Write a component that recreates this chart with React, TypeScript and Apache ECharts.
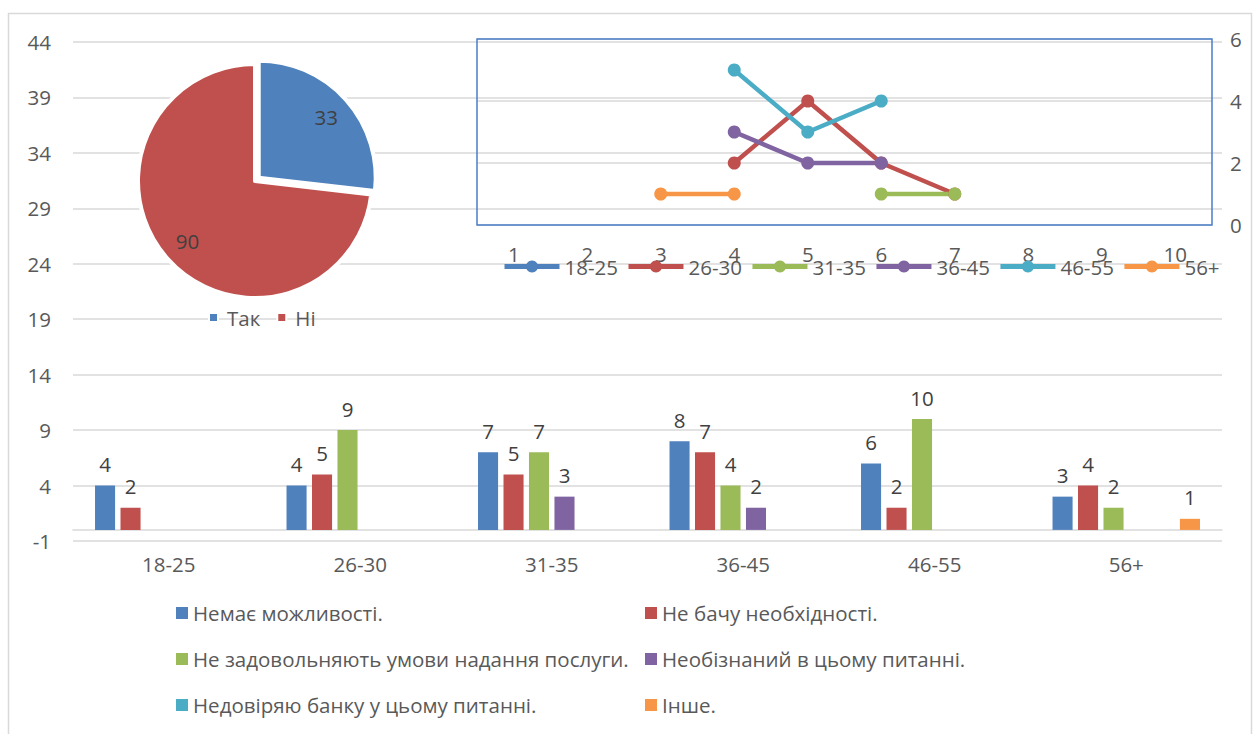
import React, { useEffect, useRef } from 'react';
import * as echarts from 'echarts';

const FONT = '"Open Sans", "Noto Sans", sans-serif';
const FONT_SIZE = 20.5;
const AXIS_TEXT = '#595959';
const LABEL_TEXT = '#404040';
const GRID_LINE = '#d9d9d9';

// Bar chart: reasons by age group
const ageGroups = ['18-25', '26-30', '31-35', '36-45', '46-55', '56+'];
const reasons = [
  'Немає можливості.',
  'Не бачу необхідності.',
  'Не задовольняють умови надання послуги.',
  'Необізнаний в цьому питанні.',
  'Недовіряю банку у цьому питанні.',
  'Інше.',
];
const palette = ['#4F81BD', '#C0504D', '#9BBB59', '#8064A2', '#4BACC6', '#F79646'];

const noPossibility = [4, 4, 7, 8, 6, 3];
const noNeed = [2, 5, 5, 7, 2, 4];
const badTerms = [null, 9, 7, 4, 10, 2];
const unaware = [null, null, 3, 2, null, null];
const distrust = [null, null, null, null, null, null];
const other = [null, null, null, null, null, 1];
const barValues = [noPossibility, noNeed, badTerms, unaware, distrust, other];

const barTicks = { min: -1, max: 44, interval: 5 };

// Pie chart: yes / no
const pieNames = ['Так', 'Ні'];
const pieValues = [33, 90];

// Line chart: counts per age group along positions 1..10
const lineX = ['1', '2', '3', '4', '5', '6', '7', '8', '9', '10'];
const line18to25 = [null, null, null, null, null, null, null, null, null, null];
const line26to30 = [null, null, null, 2, 4, 2, 1, null, null, null];
const line31to35 = [null, null, null, null, null, 1, 1, null, null, null];
const line36to45 = [null, null, null, 3, 2, 2, null, null, null, null];
const line46to55 = [null, null, null, 5, 3, 4, null, null, null, null];
const line56plus = [null, null, 1, 1, null, null, null, null, null, null];
const lineValues = [line18to25, line26to30, line31to35, line36to45, line46to55, line56plus];

const lineTicks = { min: 0, max: 6, interval: 2 };

function buildOption() {
  const barSeries = reasons.map((name, i) => ({
    name,
    type: 'bar',
    xAxisIndex: 0,
    yAxisIndex: 0,
    data: barValues[i],
    barGap: '27%',
    barCategoryGap: '23%',
    itemStyle: { color: palette[i] },
    label: {
      show: true,
      position: 'top',
      distance: 11,
      fontSize: FONT_SIZE,
      fontFamily: FONT,
      color: LABEL_TEXT,
    },
    silent: true,
    z: 2,
  }));

  const lineSeries = ageGroups.map((name, i) => ({
    name,
    type: 'line',
    xAxisIndex: 1,
    yAxisIndex: 1,
    data: lineValues[i],
    symbol: 'circle',
    symbolSize: 13,
    showSymbol: true,
    connectNulls: false,
    itemStyle: { color: palette[i] },
    lineStyle: { width: 4.5, color: palette[i] },
    silent: true,
    z: 4,
  }));

  const pieData = pieNames.map((name, i) => ({ name, value: pieValues[i], selected: i === 0 }));

  const pieSeries = [
    {
      type: 'pie',
      center: [255, 181],
      radius: 117,
      startAngle: 90,
      clockwise: true,
      selectedMode: 'single',
      selectedOffset: 5,
      data: pieData,
      itemStyle: {
        color: (p: any) => palette[p.dataIndex],
        borderColor: '#ffffff',
        borderWidth: 4,
      },
      label: { show: false },
      labelLine: { show: false },
      emphasis: { disabled: true },
      silent: true,
      z: 3,
    },
    {
      // value labels placed at three quarters of the radius
      type: 'pie',
      center: [255, 181],
      radius: [58, 117],
      startAngle: 90,
      clockwise: true,
      selectedMode: 'single',
      selectedOffset: 5,
      data: pieData,
      itemStyle: { color: 'rgba(0,0,0,0)', borderWidth: 0 },
      label: {
        show: true,
        position: 'inside',
        formatter: '{c}',
        fontSize: FONT_SIZE,
        fontFamily: FONT,
        color: LABEL_TEXT,
      },
      labelLine: { show: false },
      emphasis: { disabled: true },
      silent: true,
      z: 5,
    },
  ];

  const legendText = { color: AXIS_TEXT, fontSize: FONT_SIZE, fontFamily: FONT };

  return {
    animation: false,
    backgroundColor: '#ffffff',
    textStyle: { fontFamily: FONT },
    graphic: [
      {
        type: 'rect',
        silent: true,
        shape: { x: 8.5, y: 13.5, width: 1243, height: 760 },
        style: { fill: 'none', stroke: '#d9d9d9', lineWidth: 1.5 },
      },
    ],
    grid: [
      { left: 73, right: 33, top: 42, bottom: 193 },
      {
        left: 477,
        right: 43,
        top: 39,
        bottom: 509,
        show: true,
        borderColor: '#4A7EC7',
        borderWidth: 1.5,
        backgroundColor: 'rgba(0,0,0,0)',
        z: 3,
      },
    ],
    xAxis: [
      {
        type: 'category',
        gridIndex: 0,
        data: ageGroups,
        axisLine: { onZero: true, lineStyle: { color: GRID_LINE, width: 1.5 } },
        axisTick: { show: false },
        axisLabel: { color: AXIS_TEXT, fontSize: FONT_SIZE, fontFamily: FONT, margin: 12 },
        splitLine: { show: false },
      },
      {
        type: 'category',
        gridIndex: 1,
        data: lineX,
        boundaryGap: true,
        axisLine: { show: false },
        axisTick: { show: false },
        axisLabel: { color: AXIS_TEXT, fontSize: FONT_SIZE, fontFamily: FONT, margin: 18 },
        splitLine: { show: false },
      },
    ],
    yAxis: [
      {
        type: 'value',
        gridIndex: 0,
        ...barTicks,
        axisLine: { show: false },
        axisTick: { show: false },
        axisLabel: { color: AXIS_TEXT, fontSize: FONT_SIZE, fontFamily: FONT, margin: 22 },
        splitLine: { lineStyle: { color: GRID_LINE, width: 1.5 } },
      },
      {
        type: 'value',
        gridIndex: 1,
        position: 'right',
        ...lineTicks,
        axisLine: { show: false },
        axisTick: { show: false },
        axisLabel: { color: AXIS_TEXT, fontSize: FONT_SIZE, fontFamily: FONT, margin: 18 },
        splitLine: { lineStyle: { color: GRID_LINE, width: 1.5 } },
      },
    ],
    legend: [
      {
        data: pieNames,
        left: 203,
        top: 302,
        icon: 'rect',
        itemWidth: 9,
        itemHeight: 9,
        itemGap: 16,
        textStyle: { ...legendText, padding: [0, 0, 0, 4] },
        selectedMode: false,
      },
      {
        data: ageGroups,
        left: 497,
        top: 251,
        itemWidth: 55,
        itemHeight: 15,
        itemGap: 8,
        lineStyle: { width: 5 },
        textStyle: legendText,
        selectedMode: false,
      },
      {
        data: [reasons[0], reasons[2], reasons[4]],
        orient: 'vertical',
        left: 171,
        top: 597,
        icon: 'rect',
        itemWidth: 12,
        itemHeight: 12,
        itemGap: 24,
        textStyle: { ...legendText, lineHeight: 22 },
        selectedMode: false,
      },
      {
        data: [reasons[1], reasons[3], reasons[5]],
        orient: 'vertical',
        left: 640,
        top: 597,
        icon: 'rect',
        itemWidth: 12,
        itemHeight: 12,
        itemGap: 24,
        textStyle: { ...legendText, lineHeight: 22 },
        selectedMode: false,
      },
    ],
    series: [...barSeries, ...pieSeries, ...lineSeries],
  };
}

export default function App() {
  const ref = useRef<HTMLDivElement>(null);

  useEffect(() => {
    if (!ref.current) return;
    const chart = echarts.init(ref.current, null, { renderer: 'svg' });
    chart.setOption(buildOption() as any);
    return () => chart.dispose();
  }, []);

  return (
    <div
      ref={ref}
      style={{ position: 'fixed', left: 0, top: 0, width: 1255, height: 734, background: '#ffffff' }}
    />
  );
}
